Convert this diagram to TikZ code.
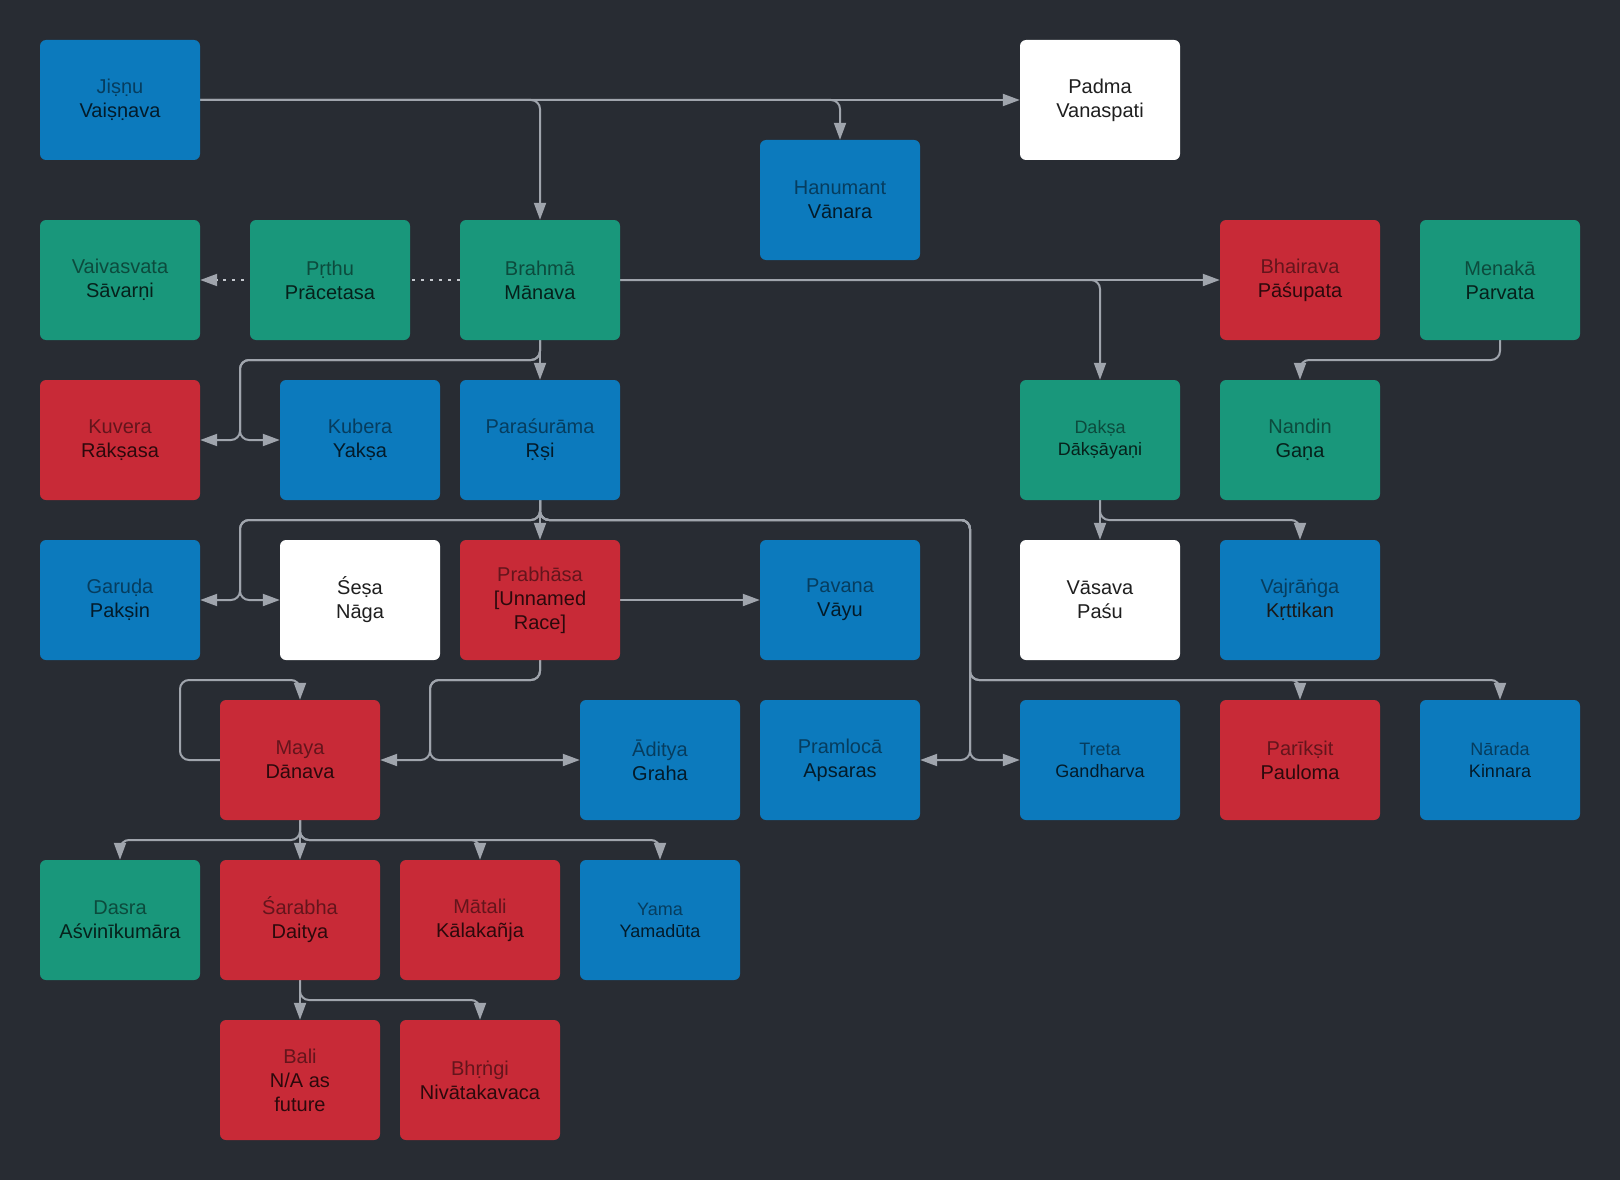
\documentclass[tikz,border=0pt]{standalone}
\usepackage{fontspec}
\setmainfont{Liberation Sans}
\usetikzlibrary{arrows.meta}
\definecolor{bgc}{HTML}{282C33}
\definecolor{cblue}{RGB}{12,122,189}
\definecolor{cgreen}{RGB}{25,151,123}
\definecolor{cred}{RGB}{200,42,55}
\definecolor{cline}{HTML}{A0A5AD}
\definecolor{cdot}{HTML}{C4C8CE}
\newcommand\firstln[2]{\textcolor{#1!50!black}{#2}}
\newcommand\nextln[2]{\textcolor{#1!22!black}{#2}}
\newcommand\wln[1]{\textcolor{black!88}{#1}}
\pgfdeclarelayer{bg}
\pgfdeclarelayer{edges}
\pgfsetlayers{bg,edges,main}
\begin{document}
\begin{tikzpicture}[x=1pt,y=-1pt,
  box/.style={rounded corners=6pt, minimum width=160pt, minimum height=120pt, inner sep=0pt, align=center, font=\fontsize{20}{24}\selectfont},
  small/.style={font=\fontsize{18}{22}\selectfont},
  bluebox/.style={box, fill=cblue},
  greenbox/.style={box, fill=cgreen},
  redbox/.style={box, fill=cred},
  whitebox/.style={box, fill=white},
  conn/.style={draw=cline, line width=2pt, rounded corners=9pt, -{Triangle[length=17pt,width=12pt]}},
  dotconn/.style={draw=cdot, line width=2pt, dash pattern=on 2.5pt off 6.5pt, -{Triangle[length=17pt,width=12pt,color=cline,fill=cline]}}
]
\begin{pgfonlayer}{bg}
\fill[bgc] (0,0) rectangle (1620,1180);
\end{pgfonlayer}
\useasboundingbox (0,0) rectangle (1620,1180);

% row 1
\node[bluebox] (jisnu) at (120,100) {\firstln{cblue}{Jiṣṇu}\\\nextln{cblue}{Vaiṣṇava}};
\node[whitebox] (padma) at (1100,100) {\wln{Padma}\\\wln{Vanaspati}};
\node[bluebox] (hanu) at (840,200) {\firstln{cblue}{Hanumant}\\\nextln{cblue}{Vānara}};
% row 2
\node[greenbox] (vaiv) at (120,280) {\firstln{cgreen}{Vaivasvata}\\\nextln{cgreen}{Sāvarṇi}};
\node[greenbox] (prthu) at (330,280) {\firstln{cgreen}{Pṛthu}\\\nextln{cgreen}{Prācetasa}};
\node[greenbox] (brahma) at (540,280) {\firstln{cgreen}{Brahmā}\\\nextln{cgreen}{Mānava}};
\node[redbox] (bhair) at (1300,280) {\firstln{cred}{Bhairava}\\\nextln{cred}{Pāśupata}};
\node[greenbox] (menaka) at (1500,280) {\firstln{cgreen}{Menakā}\\\nextln{cgreen}{Parvata}};
% row 3
\node[redbox] (kuvera) at (120,440) {\firstln{cred}{Kuvera}\\\nextln{cred}{Rākṣasa}};
\node[bluebox] (kubera) at (360,440) {\firstln{cblue}{Kubera}\\\nextln{cblue}{Yakṣa}};
\node[bluebox] (paras) at (540,440) {\firstln{cblue}{Paraśurāma}\\\nextln{cblue}{Ṛṣi}};
\node[greenbox,small] (daksa) at (1100,440) {\firstln{cgreen}{Dakṣa}\\\nextln{cgreen}{Dākṣāyaṇi}};
\node[greenbox] (nandin) at (1300,440) {\firstln{cgreen}{Nandin}\\\nextln{cgreen}{Gaṇa}};
% row 4
\node[bluebox] (garuda) at (120,600) {\firstln{cblue}{Garuḍa}\\\nextln{cblue}{Pakṣin}};
\node[whitebox] (sesa) at (360,600) {\wln{Śeṣa}\\\wln{Nāga}};
\node[redbox] (prabh) at (540,600) {\firstln{cred}{Prabhāsa}\\\nextln{cred}{[Unnamed}\\\nextln{cred}{Race]}};
\node[bluebox] (pavana) at (840,600) {\firstln{cblue}{Pavana}\\\nextln{cblue}{Vāyu}};
\node[whitebox] (vasava) at (1100,600) {\wln{Vāsava}\\\wln{Paśu}};
\node[bluebox] (vajra) at (1300,600) {\firstln{cblue}{Vajrāṅga}\\\textcolor{black!90}{Kṛttikan}};
% row 5
\node[redbox] (maya) at (300,760) {\firstln{cred}{Maya}\\\nextln{cred}{Dānava}};
\node[bluebox] (aditya) at (660,760) {\firstln{cblue}{Āditya}\\\nextln{cblue}{Graha}};
\node[bluebox] (praml) at (840,760) {\firstln{cblue}{Pramlocā}\\\nextln{cblue}{Apsaras}};
\node[bluebox,small] (treta) at (1100,760) {\firstln{cblue}{Treta}\\\nextln{cblue}{Gandharva}};
\node[redbox] (pariks) at (1300,760) {\firstln{cred}{Parīkṣit}\\\nextln{cred}{Pauloma}};
\node[bluebox,small] (narada) at (1500,760) {\firstln{cblue}{Nārada}\\\nextln{cblue}{Kinnara}};
% row 6
\node[greenbox] (dasra) at (120,920) {\firstln{cgreen}{Dasra}\\\nextln{cgreen}{Aśvinīkumāra}};
\node[redbox] (sarabha) at (300,920) {\firstln{cred}{Śarabha}\\\nextln{cred}{Daitya}};
\node[redbox] (matali) at (480,920) {\firstln{cred}{Mātali}\\\nextln{cred}{Kālakañja}};
\node[bluebox,small] (yama) at (660,920) {\firstln{cblue}{Yama}\\\nextln{cblue}{Yamadūta}};
% row 7
\node[redbox] (bali) at (300,1080) {\firstln{cred}{Bali}\\\nextln{cred}{N/A as}\\\nextln{cred}{future}};
\node[redbox] (bhrngi) at (480,1080) {\firstln{cred}{Bhṛṅgi}\\\nextln{cred}{Nivātakavaca}};

\begin{pgfonlayer}{edges}
% from Jisnu
\draw[conn] (jisnu.east) -- (padma.west);
\draw[conn] (jisnu.east) -| (brahma.north);
\draw[conn] (jisnu.east) -| (hanu.north);
% from Brahma
\draw[dotconn] (brahma.west) -- (vaiv.east);
\draw[conn] (brahma.east) -- (bhair.west);
\draw[conn] (brahma.east) -| (daksa.north);
\draw[conn] (brahma.south) -- (paras.north);
\draw[conn] (brahma.south) |- (240,360) |- (kuvera.east);
\draw[conn] (brahma.south) |- (240,360) |- (kubera.west);
% from Parasurama
\draw[conn] (paras.south) -- (prabh.north);
\draw[conn] (paras.south) |- (240,520) |- (garuda.east);
\draw[conn] (paras.south) |- (240,520) |- (sesa.west);
\draw[conn] (paras.south) |- (970,520) |- (praml.east);
\draw[conn] (paras.south) |- (970,520) |- (treta.west);
\draw[conn] (paras.south) |- (970,520) -- (970,680) -| (pariks.north);
\draw[conn] (paras.south) |- (970,520) -- (970,680) -| (narada.north);
% from Prabhasa
\draw[conn] (prabh.east) -- (pavana.west);
\draw[conn] (prabh.south) |- (430,680) |- (maya.east);
\draw[conn] (prabh.south) |- (430,680) |- (aditya.west);
% Maya self loop
\draw[conn] (maya.west) -| (180,680) -| (maya.north);
% from Maya
\draw[conn] (maya.south) -- (300,840) -| (dasra.north);
\draw[conn] (maya.south) -- (sarabha.north);
\draw[conn] (maya.south) -- (300,840) -| (matali.north);
\draw[conn] (maya.south) -- (300,840) -| (yama.north);
% from Sarabha
\draw[conn] (sarabha.south) -- (bali.north);
\draw[conn] (sarabha.south) -- (300,1000) -| (bhrngi.north);
% from Daksa
\draw[conn] (daksa.south) -- (vasava.north);
\draw[conn] (daksa.south) -- (1100,520) -| (vajra.north);
% from Menaka
\draw[conn] (menaka.south) -- (1500,360) -| (nandin.north);
\end{pgfonlayer}
\end{tikzpicture}
\end{document}
